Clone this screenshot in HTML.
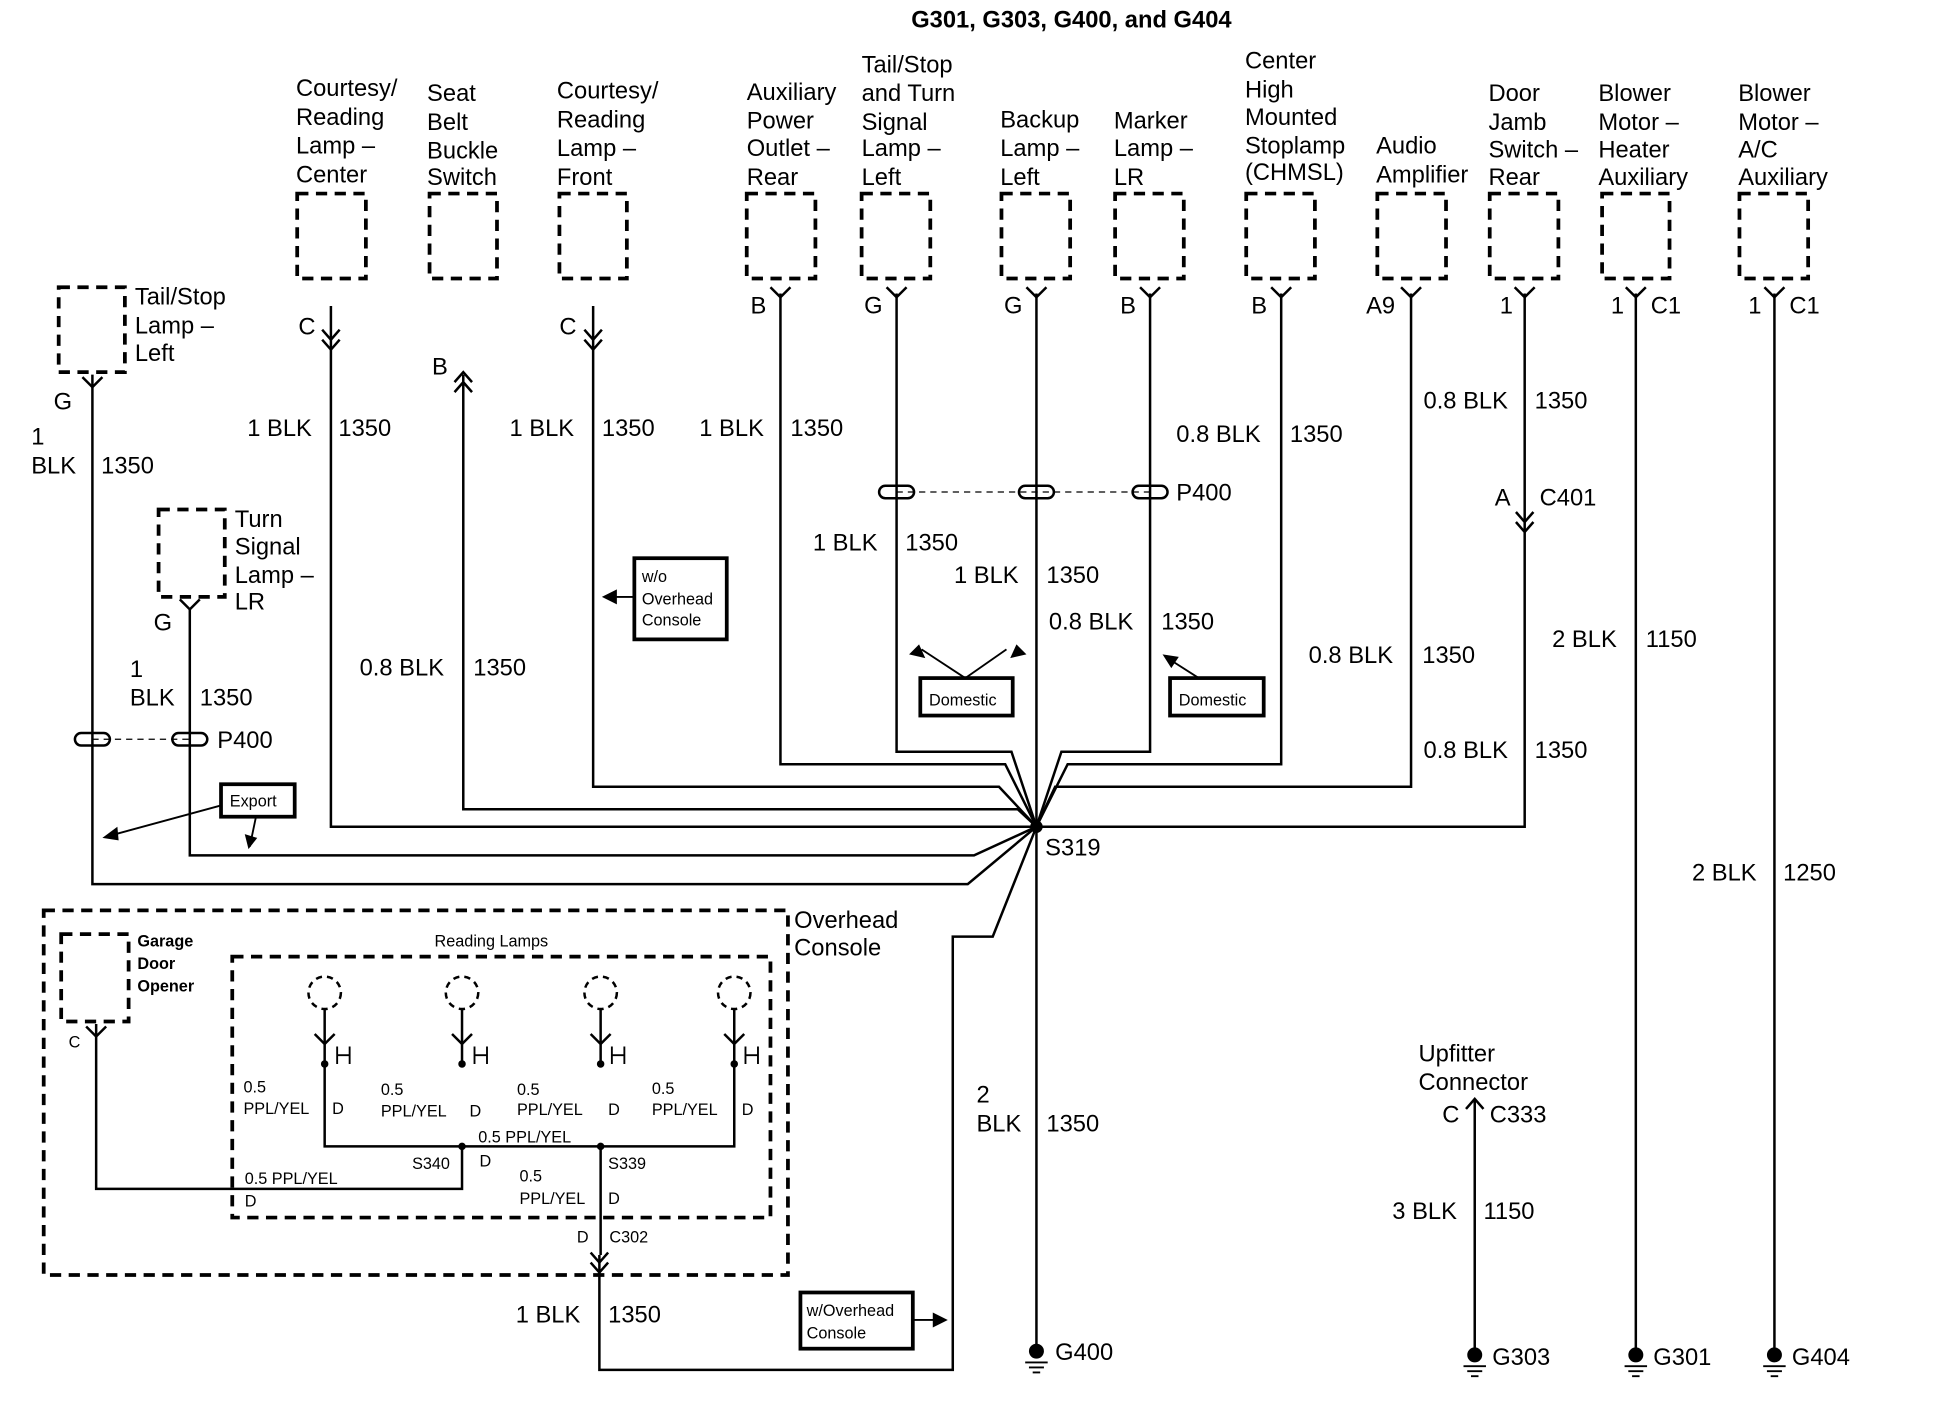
<!DOCTYPE html>
<html><head><meta charset="utf-8"><style>
html,body{margin:0;padding:0;background:#fff;}
svg{display:block;}
text{font-family:"Liberation Sans",sans-serif;fill:#000;}
.l{font-size:19px;}
.s{font-size:14px;}
.t{font-size:13px;}
</style></head><body>
<svg width="1948" height="1408" viewBox="0 0 1560 1127.5" preserveAspectRatio="none" xmlns="http://www.w3.org/2000/svg">
<g fill="none" stroke="#000" stroke-width="2">
<g stroke-width="3" stroke-dasharray="9,6">
<rect x="238" y="155" width="55" height="68"/>
<rect x="344" y="155" width="54" height="68"/>
<rect x="448" y="155" width="54" height="68"/>
<rect x="598" y="155" width="55" height="68"/>
<rect x="690" y="155" width="55" height="68"/>
<rect x="802" y="155" width="55" height="68"/>
<rect x="893" y="155" width="55" height="68"/>
<rect x="998" y="155" width="55" height="68"/>
<rect x="1103" y="155" width="55" height="68"/>
<rect x="1193" y="155" width="55" height="68"/>
<rect x="1283" y="155" width="54" height="68"/>
<rect x="1393" y="155" width="55" height="68"/>
<rect x="47" y="230" width="53" height="68"/>
<rect x="127" y="408" width="53" height="70"/>
<rect x="49" y="748" width="54" height="70"/>
<rect x="35" y="729" width="596" height="292"/>
<rect x="186" y="766" width="431" height="209"/>
</g>
<g stroke-dasharray="5,4" stroke-width="2">
<circle cx="260" cy="795" r="13"/><circle cx="370" cy="795" r="13"/><circle cx="481" cy="795" r="13"/><circle cx="588" cy="795" r="13"/>
</g>
<path d="M265 245V662H830"/>
<path d="M371 300V648H815L830 662"/>
<path d="M475 245V630H800L830 662"/>
<path d="M625 235V612H805L830 662"/>
<path d="M718 235V602H810L830 662"/>
<path d="M830 235V1080"/>
<path d="M921 235V602H850L830 662"/>
<path d="M1026 235V612H855L830 662"/>
<path d="M1130 235V630H845L830 662"/>
<path d="M1221 235V662H830"/>
<path d="M74 300V708H775L830 662"/>
<path d="M152 488V685H780L830 662"/>
<path d="M830 662L795 750H763V1097H480V1005"/>
<path d="M1310 235V1080"/><path d="M1421 235V1080"/><path d="M1181 880V1080"/>
<path d="M260 808V852M370 808V852M481 808V852M588 808V852"/>
<path d="M260 852V918H588V852"/>
<path d="M370 918V952H77V820"/>
<path d="M481 918V1005"/>
<g stroke-width="2">
<path d="M617 230L625 238L633 230M710 230L718 238L726 230M822 230L830 238L838 230M913 230L921 238L929 230M1018 230L1026 238L1034 230M1122 230L1130 238L1138 230M1213 230L1221 238L1229 230M1302 230L1310 238L1318 230M1413 230L1421 238L1429 230"/>
<path d="M66 302L74 310L82 302M144 480L152 488L160 480M69 822L77 830L85 822"/>
<path d="M258 264L265 272L272 264M258 272L265 280L272 272M468 264L475 272L482 264M468 272L475 280L482 272"/>
<path d="M364 314L371 306L378 314M364 306L371 298L378 306"/>
<path d="M1214 410L1221 418L1228 410M1214 418L1221 426L1228 418"/>
<path d="M473 1003L480 1011L487 1003M473 1011L480 1019L487 1011"/>
<path d="M1174 888L1181 880L1188 888"/>
<path d="M252 828L260 836L268 828M362 828L370 836L378 828M473 828L481 836L489 828M580 828L588 836L596 828"/>
</g>
<path d="M270 838V852M280 838V852M270 845H280M380 838V852M390 838V852M380 845H390M490 838V852M500 838V852M490 845H500M597 838V852M607 838V852M597 845H607" stroke-width="1.5"/>
<path d="M74 592H152M718 394H921" stroke-dasharray="5,4" stroke-width="1"/>
<g stroke-width="2">
<rect x="60" y="587" width="28" height="10" rx="5"/><rect x="138" y="587" width="28" height="10" rx="5"/>
<rect x="704" y="389" width="28" height="10" rx="5"/><rect x="816" y="389" width="28" height="10" rx="5"/><rect x="907" y="389" width="28" height="10" rx="5"/>
</g>
<g stroke-width="3">
<rect x="508" y="447" width="74" height="65"/>
<rect x="737" y="543" width="74" height="30"/>
<rect x="937" y="543" width="75" height="30"/>
<rect x="177" y="628" width="59" height="26"/>
<rect x="641" y="1035" width="90" height="45"/>
</g>
<path d="M508 478H485M806 520L773 543M738 520L773 543M935 527L960 543M177 645L85 670M205 654L200 678M731 1057H755" stroke-width="1.5"/>
<g fill="#000" stroke="none">
<path d="M482 478L494 472V484Z"/>
<path d="M728 524L741 527L736 516Z"/><path d="M822 524L809 527L814 516Z"/>
<path d="M931 524L944 526L938 535Z"/>
<path d="M82 671L94 662L95 673Z"/><path d="M199 680L196 668L206 671Z"/>
<path d="M759 1057L747 1051V1063Z"/>
<circle cx="830" cy="662" r="5"/><circle cx="370" cy="918" r="3"/><circle cx="481" cy="918" r="3"/>
<circle cx="260" cy="852" r="3"/><circle cx="370" cy="852" r="3"/><circle cx="481" cy="852" r="3"/><circle cx="588" cy="852" r="3"/>
<circle cx="830" cy="1082" r="6"/><circle cx="1181" cy="1085" r="6"/><circle cx="1310" cy="1085" r="6"/><circle cx="1421" cy="1085" r="6"/>
</g>
<path d="M821 1091H839M824 1095H836M827 1099H833M1172 1094H1190M1175 1098H1187M1178 1102H1184M1301 1094H1319M1304 1098H1316M1307 1102H1313M1412 1094H1430M1415 1098H1427M1418 1102H1424" stroke-width="1.5"/>
</g>
<g>
<text x="858" y="22" text-anchor="middle" style="font-size:19px;font-weight:bold">G301, G303, G400, and G404</text>
<text class="l"><tspan x="237" y="77">Courtesy/</tspan><tspan x="237" y="100">Reading</tspan><tspan x="237" y="123">Lamp –</tspan><tspan x="237" y="146">Center</tspan></text>
<text class="l"><tspan x="342" y="81">Seat</tspan><tspan x="342" y="104">Belt</tspan><tspan x="342" y="127">Buckle</tspan><tspan x="342" y="148">Switch</tspan></text>
<text class="l"><tspan x="446" y="79">Courtesy/</tspan><tspan x="446" y="102">Reading</tspan><tspan x="446" y="125">Lamp –</tspan><tspan x="446" y="148">Front</tspan></text>
<text class="l"><tspan x="598" y="80">Auxiliary</tspan><tspan x="598" y="103">Power</tspan><tspan x="598" y="125">Outlet –</tspan><tspan x="598" y="148">Rear</tspan></text>
<text class="l"><tspan x="690" y="58">Tail/Stop</tspan><tspan x="690" y="81">and Turn</tspan><tspan x="690" y="104">Signal</tspan><tspan x="690" y="125">Lamp –</tspan><tspan x="690" y="148">Left</tspan></text>
<text class="l"><tspan x="801" y="102">Backup</tspan><tspan x="801" y="125">Lamp –</tspan><tspan x="801" y="148">Left</tspan></text>
<text class="l"><tspan x="892" y="103">Marker</tspan><tspan x="892" y="125">Lamp –</tspan><tspan x="892" y="148">LR</tspan></text>
<text class="l"><tspan x="997" y="55">Center</tspan><tspan x="997" y="78">High</tspan><tspan x="997" y="100">Mounted</tspan><tspan x="997" y="123">Stoplamp</tspan><tspan x="997" y="144">(CHMSL)</tspan></text>
<text class="l"><tspan x="1102" y="123">Audio</tspan><tspan x="1102" y="146">Amplifier</tspan></text>
<text class="l"><tspan x="1192" y="81">Door</tspan><tspan x="1192" y="104">Jamb</tspan><tspan x="1192" y="126">Switch –</tspan><tspan x="1192" y="148">Rear</tspan></text>
<text class="l"><tspan x="1280" y="81">Blower</tspan><tspan x="1280" y="104">Motor –</tspan><tspan x="1280" y="126">Heater</tspan><tspan x="1280" y="148">Auxiliary</tspan></text>
<text class="l"><tspan x="1392" y="81">Blower</tspan><tspan x="1392" y="104">Motor –</tspan><tspan x="1392" y="126">A/C</tspan><tspan x="1392" y="148">Auxiliary</tspan></text>
<text class="l"><tspan x="108" y="244">Tail/Stop</tspan><tspan x="108" y="267">Lamp –</tspan><tspan x="108" y="289">Left</tspan></text>
<text class="l"><tspan x="188" y="422">Turn</tspan><tspan x="188" y="444">Signal</tspan><tspan x="188" y="467">Lamp –</tspan><tspan x="188" y="488">LR</tspan></text>
<text class="l"><tspan x="636" y="743">Overhead</tspan><tspan x="636" y="765">Console</tspan></text>
<text class="l"><tspan x="1136" y="850">Upfitter</tspan><tspan x="1136" y="873">Connector</tspan></text>
<text class="l" x="239" y="268">C</text><text class="l" x="346" y="300">B</text><text class="l" x="448" y="268">C</text>
<text class="l" x="601" y="251">B</text><text class="l" x="692" y="251">G</text><text class="l" x="804" y="251">G</text><text class="l" x="897" y="251">B</text>
<text class="l" x="1002" y="251">B</text><text class="l" x="1094" y="251">A9</text><text class="l" x="1201" y="251">1</text>
<text class="l" x="1290" y="251">1</text><text class="l" x="1322" y="251">C1</text><text class="l" x="1400" y="251">1</text><text class="l" x="1433" y="251">C1</text>
<text class="l" x="43" y="328">G</text><text class="l" x="123" y="505">G</text>
<text class="l"><tspan x="25" y="356">1</tspan><tspan x="25" y="379">BLK</tspan></text><text class="l" x="81" y="379">1350</text>
<text class="l"><tspan x="104" y="542">1</tspan><tspan x="104" y="565">BLK</tspan></text><text class="l" x="160" y="565">1350</text>
<text class="l" x="198" y="349">1 BLK</text><text class="l" x="271" y="349">1350</text>
<text class="l" x="408" y="349">1 BLK</text><text class="l" x="482" y="349">1350</text>
<text class="l" x="560" y="349">1 BLK</text><text class="l" x="633" y="349">1350</text>
<text class="l" x="942" y="354">0.8 BLK</text><text class="l" x="1033" y="354">1350</text>
<text class="l" x="1140" y="327">0.8 BLK</text><text class="l" x="1229" y="327">1350</text>
<text class="l" x="942" y="401">P400</text>
<text class="l" x="1197" y="405">A</text><text class="l" x="1233" y="405">C401</text>
<text class="l" x="651" y="441">1 BLK</text><text class="l" x="725" y="441">1350</text>
<text class="l" x="764" y="467">1 BLK</text><text class="l" x="838" y="467">1350</text>
<text class="l" x="840" y="504">0.8 BLK</text><text class="l" x="930" y="504">1350</text>
<text class="l" x="1048" y="531">0.8 BLK</text><text class="l" x="1139" y="531">1350</text>
<text class="l" x="1243" y="518">2 BLK</text><text class="l" x="1318" y="518">1150</text>
<text class="l" x="1140" y="607">0.8 BLK</text><text class="l" x="1229" y="607">1350</text>
<text class="l" x="288" y="541">0.8 BLK</text><text class="l" x="379" y="541">1350</text>
<text class="l" x="174" y="599">P400</text>
<text class="l" x="837" y="685">S319</text>
<text class="l" x="1355" y="705">2 BLK</text><text class="l" x="1428" y="705">1250</text>
<text class="l"><tspan x="782" y="883">2</tspan><tspan x="782" y="906">BLK</tspan></text><text class="l" x="838" y="906">1350</text>
<text class="l" x="1155" y="899">C</text><text class="l" x="1193" y="899">C333</text>
<text class="l" x="1115" y="976">3 BLK</text><text class="l" x="1188" y="976">1150</text>
<text class="l" x="413" y="1059">1 BLK</text><text class="l" x="487" y="1059">1350</text>
<text class="l" x="845" y="1089">G400</text><text class="l" x="1195" y="1093">G303</text><text class="l" x="1324" y="1093">G301</text><text class="l" x="1435" y="1093">G404</text>
<text class="t"><tspan x="514" y="466">w/o</tspan><tspan x="514" y="484">Overhead</tspan><tspan x="514" y="501">Console</tspan></text>
<text class="t" x="744" y="565">Domestic</text><text class="t" x="944" y="565">Domestic</text>
<text class="t" x="184" y="646">Export</text>
<text class="t"><tspan x="646" y="1054">w/Overhead</tspan><tspan x="646" y="1072">Console</tspan></text>
<text class="t" style="font-weight:bold"><tspan x="110" y="758">Garage</tspan><tspan x="110" y="776">Door</tspan><tspan x="110" y="794">Opener</tspan></text>
<text class="t" x="348" y="758">Reading Lamps</text>
<text class="t" x="55" y="839">C</text>
<text class="t"><tspan x="195" y="875">0.5</tspan><tspan x="195" y="892">PPL/YEL</tspan></text><text class="t" x="266" y="892">D</text>
<text class="t"><tspan x="305" y="877">0.5</tspan><tspan x="305" y="894">PPL/YEL</tspan></text><text class="t" x="376" y="894">D</text>
<text class="t"><tspan x="414" y="877">0.5</tspan><tspan x="414" y="893">PPL/YEL</tspan></text><text class="t" x="487" y="893">D</text>
<text class="t"><tspan x="522" y="876">0.5</tspan><tspan x="522" y="893">PPL/YEL</tspan></text><text class="t" x="594" y="893">D</text>
<text class="t" x="383" y="915">0.5 PPL/YEL</text>
<text class="t" x="330" y="936">S340</text><text class="t" x="384" y="934">D</text><text class="t" x="487" y="936">S339</text>
<text class="t" x="196" y="948">0.5 PPL/YEL</text><text class="t" x="196" y="966">D</text>
<text class="t"><tspan x="416" y="946">0.5</tspan><tspan x="416" y="964">PPL/YEL</tspan></text><text class="t" x="487" y="964">D</text>
<text class="t" x="462" y="995">D</text><text class="t" x="488" y="995">C302</text>
</g>
</svg>
</body></html>
